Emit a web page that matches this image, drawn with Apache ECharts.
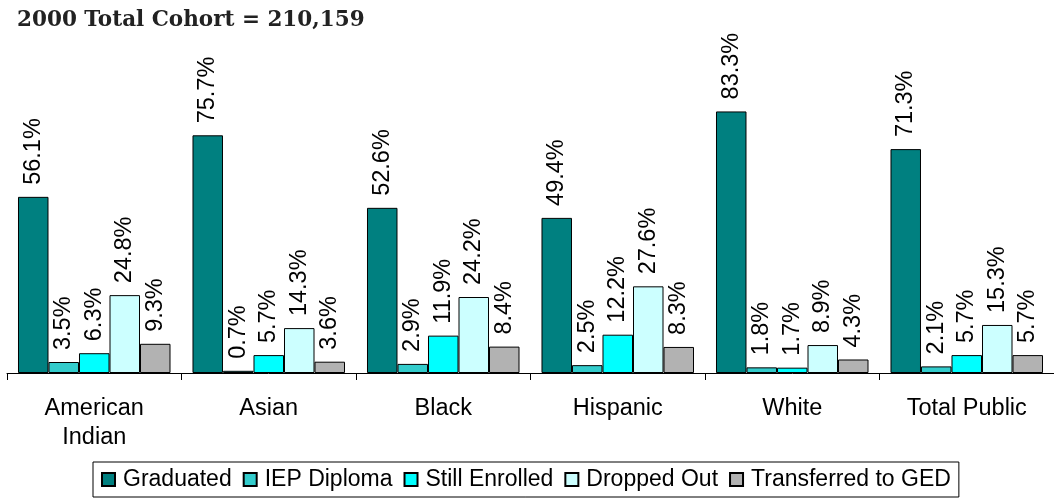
<!DOCTYPE html>
<html>
<head>
<meta charset="utf-8">
<script src="https://cdn.jsdelivr.net/npm/echarts@6/dist/echarts.min.js"></script>
<style>
html,body{margin:0;padding:0;background:#fff;}
#chart{width:1054px;height:500px;}
</style>
</head>
<body>
<div id="chart"></div>
<script>
var titleText = '2000 Total Cohort = 210,159';
var categories = ['American\nIndian', 'Asian', 'Black', 'Hispanic', 'White', 'Total Public'];
var seriesNames = ['Graduated', 'IEP Diploma', 'Still Enrolled', 'Dropped Out', 'Transferred to GED'];
var graduated = [56.1, 75.7, 52.6, 49.4, 83.3, 71.3];
var iepDiploma = [3.5, 0.7, 2.9, 2.5, 1.8, 2.1];
var stillEnrolled = [6.3, 5.7, 11.9, 12.2, 1.7, 5.7];
var droppedOut = [24.8, 14.3, 24.2, 27.6, 8.9, 15.3];
var transferredGED = [9.3, 3.6, 8.4, 8.3, 4.3, 5.7];
var colors = ['#008080', '#33CCCC', '#00FFFF', '#CCFFFF', '#B2B2B2'];

var allData = [graduated, iepDiploma, stillEnrolled, droppedOut, transferredGED];
var font = '"Liberation Sans", Arial, sans-serif';

var chart = echarts.init(document.getElementById('chart'), null, {renderer: 'canvas'});
var series = seriesNames.map(function (name, i) {
  return {
    name: name,
    type: 'bar',
    data: allData[i],
    barGap: '0%',
    barCategoryGap: '12.6%',
    itemStyle: {color: colors[i], borderColor: '#000', borderWidth: 1},
    label: {
      show: true,
      position: 'top',
      rotate: 90,
      align: 'left',
      verticalAlign: 'middle',
      distance: 12,
      color: '#000',
      fontFamily: font,
      fontSize: 23.5,
      formatter: function (p) { return p.value.toFixed(1) + '%'; }
    },
    emphasis: {disabled: true},
    animation: false
  };
});

chart.setOption({
  animation: false,
  backgroundColor: '#fff',
  title: {
    text: titleText,
    left: 12,
    top: 4,
    textStyle: {fontFamily: '"DejaVu Serif", serif', fontWeight: 'bold', fontSize: 21.5, color: '#222'}
  },
  legend: {
    left: 93,
    top: 462,
    padding: [6, 8],
    itemGap: 11,
    itemWidth: 13,
    itemHeight: 13,
    borderColor: '#000',
    borderWidth: 1,
    backgroundColor: '#fff',
    icon: 'rect',
    textStyle: {fontFamily: font, fontSize: 23, color: '#000', padding: [0, 0, 0, 3]},
    data: seriesNames
  },
  grid: {left: 7, right: 0, top: 59, bottom: 127, containLabel: false},
  xAxis: {
    type: 'category',
    data: categories,
    axisLine: {lineStyle: {color: '#000', width: 1}},
    axisTick: {show: true, length: 7, lineStyle: {color: '#000'}},
    axisLabel: {color: '#000', fontFamily: font, fontSize: 23.5, lineHeight: 29, margin: 21, interval: 0}
  },
  yAxis: {
    type: 'value',
    min: 0,
    max: 100,
    show: false,
    splitLine: {show: false}
  },
  series: series
});
</script>
</body>
</html>
